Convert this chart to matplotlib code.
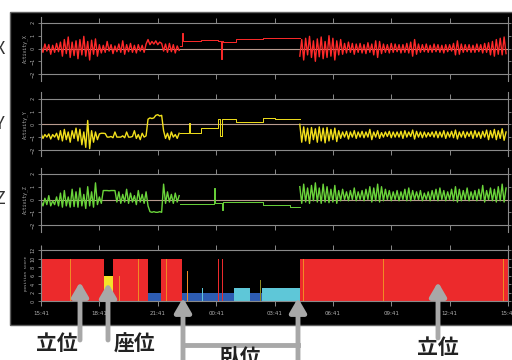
import numpy as np
import matplotlib.pyplot as plt
from matplotlib.patches import Rectangle
from matplotlib.lines import Line2D

hours = [0, 3, 6, 9, 12, 15, 18, 21, 24]
hour_labels = ["15:41", "18:41", "21:41", "00:41", "03:41", "06:41", "09:41", "12:41", "15:41"]

# Activity_X : noisy part before (t=0..7.1, every 0.1h), steps while lying, noisy part after (t=13.3..)
x_a = [0.2, -0.3, 0.35, -0.2, 0.3, -0.45, 0.25, -0.3, 0.4, -0.25,
       0.5, -0.6, 0.7, -0.4, 0.9, -0.7, 0.5, -0.55, 0.6, -0.8,
       0.7, -0.5, 0.95, -0.6, 0.55, -0.9, 0.65, -0.45, 0.75, -0.6,
       0.3, -0.35, 0.25, -0.3, 0.55, -0.2, 0.3, -0.4, 0.2, -0.25,
       0.35, -0.3, 0.6, -0.45, 0.3, -0.25, 0.4, -0.3, 0.25, -0.35,
       0.3, -0.2, 0.25, -0.3, 0.35,
       0.7, 0.3, 0.55, 0.35, 0.6, 0.3, 0.5, 0.4,
       -0.2, 0.35, -0.3, 0.4, -0.25, 0.3, -0.35, 0.2, -0.15]
x_mid_t = [7.15, 7.25, 7.3, 8.2, 9.1, 9.25, 9.3, 9.35, 10.0, 11.4, 12.2, 13.3]
x_mid_v = [0.2, 1.2, 0.55, 0.66, 0.6, -0.8, 0.6, 0.53, 0.72, 0.85, 0.82, 0.82]
x_c = [-0.6, 0.7, -0.9, 0.8, -0.5, 0.95, -0.7, 0.6, -1.0, 0.75,
       -0.65, 0.9, -0.8, 0.55, -0.7, 1.0, -0.6, 0.8, -0.9, 0.6,
       -0.5, 0.7, -0.45, 0.4, -0.35, 0.5, -0.3, 0.4, -0.45, 0.35,
       -0.3, 0.4, -0.35, 0.3, -0.4, 0.45, -0.3, 0.35, -0.5, 0.6,
       -0.7, 0.55, -0.4, 0.35, -0.3, 0.3, -0.35, 0.4, -0.3, 0.35,
       -0.25, 0.3, -0.35, 0.3, -0.3, 0.4, -0.35, 0.5, -0.6, 0.7,
       -0.45, 0.35, -0.3, 0.3, -0.25, 0.35, -0.3, 0.25, -0.3, 0.35,
       -0.25, 0.3, -0.3, 0.25, -0.35, 0.3, -0.25, 0.3, -0.2, 0.4,
       -0.5, 0.6, -0.45, 0.35, -0.3, 0.3, -0.25, 0.3, -0.3, 0.25,
       -0.3, 0.35, -0.25, 0.3, -0.35, 0.4, -0.3, 0.45, -0.5, 0.55,
       -0.6, 0.7, -0.45, 0.8, -0.5, 0.9, -0.4]

# Activity_Y
y_a = [-0.7, -1.1, -0.8, -1.0, -0.75, -1.15, -0.8, -1.0, -0.7, -1.2,
       -0.5, -1.3, -0.4, -1.2, -0.6, -1.4, -0.5, -1.1, -0.3, -1.3,
       -0.4, -1.6, -0.6, -1.8, 0.3, -1.9, -0.5, -1.4, -0.6, -1.2,
       -0.75, -0.7, -0.7, -0.72, -1.0, -1.0, -0.95, -1.05, -0.6, -1.0,
       -1.0, -1.0, -0.9, -1.05, -0.6, -1.0, -1.0, -0.95, -0.5, -1.1,
       -0.8, -1.2, -0.7, -1.0, -0.9,
       0.4, 0.5, 0.45, 0.5, 0.7, 0.75, 0.65, 0.7,
       -0.5, -1.1, -0.7, -1.2, -0.6, -1.0, -0.8, -1.1, -0.7]
y_mid_t = [7.15, 7.6, 7.65, 8.2, 9.1, 9.2, 9.3, 10.0, 11.4, 12.0, 13.3]
y_mid_v = [-0.7, 0.1, -0.7, -0.3, 0.4, -0.9, 0.45, 0.15, 0.5, 0.45, 0.45]
y_c = [0.0, -1.4, -0.2, -1.3, -0.3, -1.5, -0.25, -1.2, -0.35, -1.4,
       -0.2, -1.3, -0.3, -1.45, -0.25, -1.3, -0.4, -1.2, -0.3, -1.35,
       -0.5, -1.1, -0.6, -1.0, -0.55, -1.15, -0.6, -1.0, -0.5, -1.1,
       -0.6, -1.0, -0.55, -1.05, -0.6, -1.0, -0.4, -1.2, -0.6, -1.0,
       -0.5, -1.1, -0.65, -1.0, -0.6, -0.95, -0.55, -1.05, -0.6, -1.0,
       -0.6, -1.0, -0.55, -1.1, -0.5, -1.0, -0.6, -0.95, -0.45, -1.15,
       -0.55, -1.0, -0.6, -1.05, -0.6, -1.0, -0.65, -0.95, -0.6, -1.0,
       -0.55, -1.05, -0.6, -1.0, -0.5, -1.1, -0.6, -1.0, -0.55, -1.05,
       -0.45, -1.15, -0.6, -1.0, -0.55, -1.05, -0.6, -0.95, -0.55, -1.1,
       -0.5, -1.0, -0.6, -1.1, -0.55, -1.0, -0.45, -1.2, -0.5, -1.05,
       -0.4, -1.2, -0.5, -1.1, -0.35, -1.25, -0.6]

# Activity_Z
z_a = [-0.1, -0.5, 0.1, -0.4, 0.3, -0.5, -0.1, -0.4, 0.2, -0.5,
       0.5, -0.6, 0.7, -0.5, 0.2, -0.6, 0.8, -0.55, 0.6, -0.6,
       0.9, -0.5, 0.4, -0.7, 1.0, -0.5, 0.6, -0.6, 1.3, -0.4,
       0.2, -0.3, 0.7,
       0.7, 0.7, 0.68, 0.7, 0.7, 0.7,
       -0.2, 0.6, -0.3, 0.4, -0.2, 0.8, -0.3, 0.5, -0.2, 0.3, -0.4, 0.7, -0.2, 0.4, -0.3, 0.6, -0.5,
       -0.95, -1.0, -0.95, -1.0, -1.0, -0.95, -1.0,
       1.2, -0.3, 0.6, -0.2, 0.4, -0.3, 0.5, -0.2, 0.3]
z_mid_t = [7.15, 8.9, 8.95, 9.0, 9.3, 9.35, 9.4, 11.4, 12.8, 13.3]
z_mid_v = [-0.35, 0.9, -0.3, -0.3, -0.8, -0.2, -0.2, -0.4, -0.55, -0.55]
z_c = [1.0, -0.3, 1.2, -0.2, 0.9, -0.3, 1.1, -0.1, 1.3, -0.2,
       0.9, -0.3, 1.2, -0.2, 1.0, -0.25, 0.8, -0.2, 1.1, -0.3,
       0.7, -0.1, 0.8, 0.0, 0.6, -0.1, 0.7, 0.0, 0.9, -0.1,
       0.6, 0.0, 0.7, -0.1, 0.8, 0.0, 1.0, -0.2, 0.9, -0.1,
       1.2, -0.2, 1.0, -0.1, 0.8, 0.0, 0.7, -0.1, 0.6, 0.0,
       0.7, -0.1, 0.6, 0.0, 0.8, -0.1, 0.9, -0.1, 0.7, 0.0,
       0.6, 0.0, 0.7, -0.1, 0.5, 0.0, 0.6, -0.1, 0.7, 0.0,
       0.8, -0.1, 0.9, 0.0, 0.7, -0.1, 0.6, 0.0, 0.8, -0.1,
       1.0, -0.2, 0.8, -0.1, 0.7, 0.0, 0.9, -0.1, 0.6, 0.0,
       0.7, -0.1, 0.8, 0.0, 1.1, -0.2, 0.7, 0.0, 0.9, -0.1,
       0.8, -0.2, 1.0, -0.1, 1.2, -0.2, 0.9]

# position score blocks
pos_start = [0.0, 3.24, 3.70, 5.50, 6.17, 7.25, 9.92, 10.74, 11.36, 13.31]
pos_end = [3.24, 3.70, 5.50, 6.17, 7.25, 9.92, 10.74, 11.36, 13.31, 24.0]
pos_score = [10, 6, 10, 2, 10, 2, 3, 2, 3, 10]
pos_kind = ["r", "y", "r", "b", "r", "b", "c", "b", "c", "r"]
mark_t = [1.5, 4.0, 4.98, 6.4, 7.5, 8.27, 9.1, 9.3, 11.25, 13.46, 17.57, 23.74]
mark_score = [10, 6, 10, 10, 7, 3, 10, 10, 5, 10, 10, 10]
mark_kind = ["o", "o", "o", "o", "o", "c", "r", "r", "k", "o", "o", "o"]

kind_color = {"r": "#ec2a2c", "y": "#f4e22a", "b": "#2d5cb2", "c": "#5ec7d8",
              "o": "#f08a24", "k": "#8c8a22"}

W, H = 512, 360
fig = plt.figure(figsize=(5.12, 3.6), dpi=100, facecolor="white")

fig.add_artist(Rectangle((10 / W, 35 / H), 510 / W, 313 / H, transform=fig.transFigure,
                         facecolor="black", edgecolor="#606060", lw=1, zorder=0))

gray = "#8a8a8a"
txt = "#b0b0b0"
x0, x1 = 41, 508


def make_ax(top, bottom):
    ax = fig.add_axes([x0 / W, (H - bottom) / H, (x1 - x0) / W, (bottom - top) / H])
    ax.set_facecolor("none")
    ax.set_xlim(0, 24)
    ax.set_xticks(hours)
    for s in ax.spines.values():
        s.set_color(gray)
        s.set_linewidth(0.8)
    ax.tick_params(axis="x", direction="out", top=True, bottom=True, length=3.5,
                   width=0.7, color=gray, labelbottom=False)
    ax.tick_params(axis="y", direction="out", left=True, right=True, length=2.5,
                   width=0.6, color=gray, labelsize=3.5, labelcolor=txt, pad=1.5,
                   labelrotation=90)
    for lab in ax.get_yticklabels():
        lab.set_va("center")
    return ax


panels = [("Activity_X", "#ff2a2a", x_a, x_mid_t, x_mid_v, x_c, 48.5),
          ("Activity_Y", "#f2e01c", y_a, y_mid_t, y_mid_v, y_c, 124.3),
          ("Activity_Z", "#6ad43a", z_a, z_mid_t, z_mid_v, z_c, 199.5)]
side_text = ["X", "Y", "Z"]

for i, (name, col, va, mt, mv, vc, cy) in enumerate(panels):
    ax = make_ax(cy - 32, cy + 32)
    ax.set_ylim(-2.5, 2.5)
    ax.spines["top"].set_position(("data", 2))
    ax.spines["bottom"].set_position(("data", -2))
    ax.set_yticks([-2, -1, 0, 1, 2])
    ax.axhline(0, color="#b89a8e", lw=0.8, zorder=1)
    ta = 0.1 * np.arange(len(va))
    tc = 13.3 + 0.1 * np.arange(len(vc))
    ax.plot(ta, va, color=col, lw=1.0, zorder=2)
    ax.step(mt, mv, where="post", color=col, lw=0.7, zorder=2)
    ax.plot(tc, vc, color=col, lw=1.0, zorder=2)
    ax.set_ylabel(name, fontsize=3.5, color=txt, family="DejaVu Sans Mono", labelpad=2)
    fig.text(0, (H - cy) / H, side_text[i], fontsize=13, color="#333", ha="center",
             va="center", family=["Noto Sans CJK JP"])

ax4 = make_ax(245.75, 301)
ax4.set_ylim(0, 13)
ax4.spines["top"].set_position(("data", 12))
ax4.set_yticks([0, 2, 4, 6, 8, 10, 12])
ax4.bar(pos_start, pos_score, width=np.array(pos_end) - np.array(pos_start), align="edge",
        color=[kind_color[k] for k in pos_kind], linewidth=0, zorder=2)
ax4.bar(mark_t, mark_score, width=0.06, align="edge",
        color=[kind_color[k] for k in mark_kind], linewidth=0, zorder=3)
ax4.set_ylabel("position score", fontsize=3, color=txt, family="DejaVu Sans Mono", labelpad=2)
ax4.tick_params(axis="x", labelbottom=True, labelsize=4, labelcolor=txt, pad=4)
ax4.set_xticklabels(hour_labels)

# annotations under the chart
acol = "#a8a8a8"
arrows = [(80, 20, 78), (108, 20, 77), (183, 0, 62), (298, 0, 62), (438, 22, 78)]
for ax_, y_from, y_to in arrows:
    ax4.annotate("", xy=(ax_, y_to), xytext=(ax_, y_from), xycoords="figure pixels",
                 textcoords="figure pixels", annotation_clip=False,
                 arrowprops=dict(arrowstyle="-|>,head_length=0.6,head_width=0.35",
                                 color=acol, lw=3.5, mutation_scale=14,
                                 shrinkA=0, shrinkB=0))
fig.add_artist(Line2D([183 / W, 298 / W], [15 / H, 15 / H], transform=fig.transFigure,
                      color=acol, lw=3.5))

labels = [("立位", 57, 16), ("座位", 135, 16), ("臥位", 240, 3), ("立位", 438, 12)]
for s, px, py in labels:
    fig.text(px / W, py / H, s, fontsize=15, fontweight="bold", color="#222",
             ha="center", va="center", family=["Noto Sans CJK JP"])

plt.savefig("out.png", dpi=100)
